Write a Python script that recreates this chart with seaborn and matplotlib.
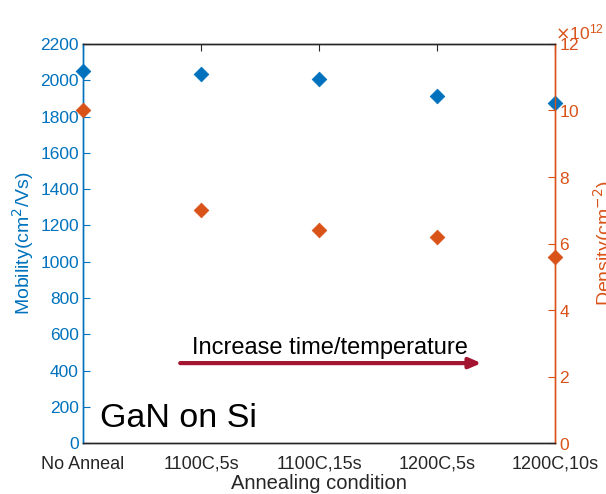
import matplotlib
matplotlib.use("Agg")
import matplotlib.pyplot as plt
import seaborn as sns
import pandas as pd
from matplotlib.ticker import ScalarFormatter

conditions = ["No Anneal", "1100C,5s", "1100C,15s", "1200C,5s", "1200C,10s"]
mobility = [2051, 2034, 2006, 1912, 1872]
density = [10.0e12, 7.0e12, 6.4e12, 6.2e12, 5.6e12]

blue = "#0072BD"
orange = "#D95319"
arrow_red = "#A2142F"

sns.set_style("white")
plt.rcParams['font.family'] = ['Liberation Sans', 'DejaVu Sans']

df = pd.DataFrame({"pos": range(len(conditions)), "cond": conditions,
                   "mobility": mobility, "density": density})

fig = plt.figure(figsize=(6.06, 4.94), dpi=100)
ax = fig.add_axes([0.137, 0.103, 0.779, 0.808])
ax2 = ax.twinx()

sns.scatterplot(data=df, x="pos", y="mobility", ax=ax, marker="D", s=55,
                color=blue, edgecolor=blue, clip_on=False, zorder=5)
sns.scatterplot(data=df, x="pos", y="density", ax=ax2, marker="D", s=55,
                color=orange, edgecolor=orange, clip_on=False, zorder=5)

ax.set_xlim(0, 4)
ax.set_ylim(0, 2200)
ax.set_yticks(range(0, 2201, 200))
ax.set_xticks(range(len(conditions)))
ax.set_xticklabels(conditions)
ax2.set_ylim(0, 12e12)
ax2.set_yticks([i * 1e12 for i in range(0, 13, 2)])
fmt = ScalarFormatter(useMathText=True)
fmt.set_powerlimits((12, 12))
ax2.yaxis.set_major_formatter(fmt)
off = ax2.yaxis.get_offset_text()
off.set_color(orange)
off.set_fontsize(12.5)
off.set_horizontalalignment("left")

ax.set_xlabel("Annealing condition", fontsize=14.5, color="#262626", labelpad=1)
ax.set_ylabel("Mobility(cm$^2$/Vs)", fontsize=14, color=blue, labelpad=3)
ax2.set_ylabel("Density(cm$^{-2}$)", fontsize=14, color=orange, labelpad=8)

ax.tick_params(axis="x", direction="in", top=True, length=5, labelsize=13,
               colors="#262626", pad=9)
ax.tick_params(axis="y", direction="in", length=5, labelsize=12.5, colors=blue,
               pad=3)
ax2.tick_params(axis="y", direction="in", length=5, labelsize=12.5, colors=orange,
                pad=3)

for a in (ax, ax2):
    a.spines["top"].set_color("#262626")
    a.spines["bottom"].set_color("#262626")
    a.spines["left"].set_color(blue)
    a.spines["right"].set_color(orange)
    for s in a.spines.values():
        s.set_linewidth(1.0)
ax.grid(False)
ax2.grid(False)

ax.annotate("", xy=(3.4, 441), xytext=(0.8, 441),
            arrowprops=dict(arrowstyle="-|>,head_length=0.7,head_width=0.3",
                        color=arrow_red, lw=3))
ax.text(2.09, 490, "Increase time/temperature", fontsize=17, ha="center",
        va="baseline", color="black")
ax.text(0.144, 88, "GaN on Si", fontsize=24.5, ha="left", va="baseline",
        color="black")

fig.savefig("out.png", dpi=100)
